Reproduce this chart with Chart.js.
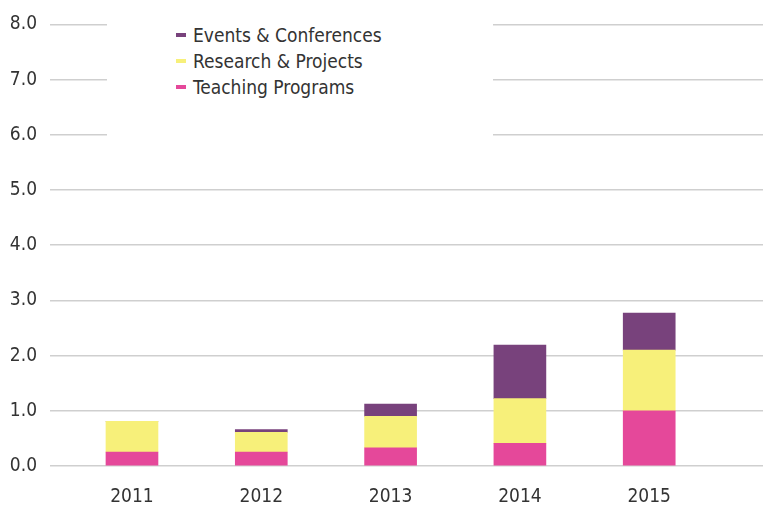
<!DOCTYPE html>
<html>
<head>
  <script src="https://cdn.jsdelivr.net/npm/chart.js"></script>
  <style>
    body { margin: 0; background: #fff; }
    #wrap { position: relative; width: 770px; height: 506px; }
    #legend {
      position: absolute; left: 107px; top: 8px; width: 386px; height: 140px;
      background: #fff; font-family: "Liberation Sans Narrow", "DejaVu Sans Condensed", sans-serif;
      font-size: 19px; color: #333;
    }
    .item { position: absolute; left: 69px; height: 26px; line-height: 26px; }
    .item span.mark { position: absolute; left: 0; top: 11px; width: 10px; height: 4px; }
    .item span.txt { position: absolute; left: 17px; white-space: nowrap; }
  </style>
</head>
<body>
  <div id="wrap">
    <canvas id="chart" width="770" height="506"></canvas>
    <div id="legend"></div>
  </div>
  <script>
// data
const years = [2011, 2012, 2013, 2014, 2015];
const teaching = [0.25, 0.25, 0.33, 0.41, 1.0];
const research = [0.56, 0.36, 0.57, 0.81, 1.1];
const events = [0, 0.05, 0.22, 0.97, 0.67];
const yTicks = [0, 1, 2, 3, 4, 5, 6, 7, 8];

const FONT = '"Liberation Sans Narrow", "DejaVu Sans Condensed", sans-serif';

function pts(vals) {
  return years.map((y, i) => ({ x: y, y: vals[i] }));
}

const datasets = [
  { label: 'Teaching Programs', data: pts(teaching), backgroundColor: '#e5489a' },
  { label: 'Research & Projects', data: pts(research), backgroundColor: '#f7f07a' },
  { label: 'Events & Conferences', data: pts(events), backgroundColor: '#78427c' }
];

new Chart(document.getElementById('chart'), {
  type: 'bar',
  data: { datasets: datasets },
  options: {
    responsive: false,
    animation: false,
    layout: { padding: { top: 22, right: 7, left: 0, bottom: 0 } },
    datasets: { bar: { barThickness: 52 } },
    plugins: { legend: { display: false }, tooltip: { enabled: false } },
    scales: {
      x: {
        type: 'linear',
        stacked: true,
        offset: false,
        min: 2010.366,
        max: 2015.88,
        grid: { display: false, offset: false },
        border: { display: false },
        afterBuildTicks: s => { s.ticks = years.map(v => ({ value: v })); },
        afterFit: s => { s.height = 40; },
        ticks: {
          callback: v => String(v),
          color: '#333',
          padding: 12,
          maxRotation: 0,
          font: { family: FONT, size: 19 }
        }
      },
      y: {
        stacked: true,
        min: 0,
        max: 8,
        afterBuildTicks: s => { s.ticks = yTicks.map(v => ({ value: v })); },
        afterFit: s => { s.width = 50; },
        grid: { color: '#cfcfcf', lineWidth: 1.5, drawTicks: false },
        border: { display: false },
        ticks: {
          callback: v => v.toFixed(1),
          color: '#333',
          padding: 13,
          font: { family: FONT, size: 19 }
        }
      }
    }
  }
});

// legend, reversed order like the reference
const legend = document.getElementById('legend');
datasets.slice().reverse().forEach((d, i) => {
  const el = document.createElement('div');
  el.className = 'item';
  el.style.top = (14 + i * 26) + 'px';
  el.innerHTML = '<span class="mark" style="background:' + d.backgroundColor + '"></span><span class="txt"></span>';
  el.querySelector('.txt').textContent = d.label;
  legend.appendChild(el);
});
  </script>
</body>
</html>
